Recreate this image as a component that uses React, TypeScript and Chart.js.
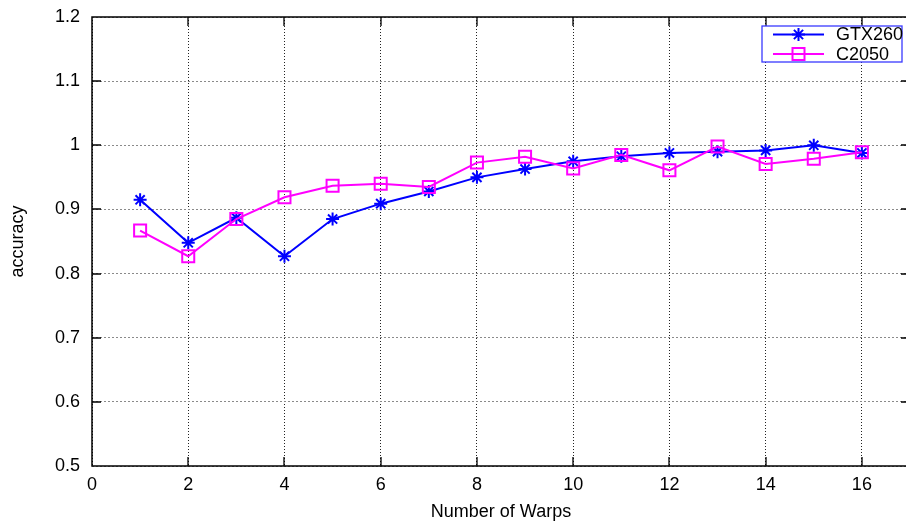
import React, { useEffect, useRef } from 'react';
import { Chart, registerables } from 'chart.js';

Chart.register(...registerables);

// ---- data ----
const warps = [1, 2, 3, 4, 5, 6, 7, 8, 9, 10, 11, 12, 13, 14, 15, 16];
const gtx260 = [0.915, 0.848, 0.887, 0.827, 0.885, 0.909, 0.928, 0.950, 0.963, 0.975, 0.983, 0.988, 0.990, 0.992, 1.0, 0.988];
const c2050 = [0.867, 0.827, 0.885, 0.919, 0.937, 0.940, 0.935, 0.973, 0.982, 0.964, 0.985, 0.961, 0.998, 0.971, 0.979, 0.989];
const xTickValues = [0, 2, 4, 6, 8, 10, 12, 14, 16];
const yTickValues = [0.5, 0.6, 0.7, 0.8, 0.9, 1.0, 1.1, 1.2];
const seriesLabels = ['GTX260', 'C2050'];
const xTitle = 'Number of Warps';
const yTitle = 'accuracy';

const FONT = '"Liberation Sans", Arial, sans-serif';
const BLUE = '#0000ff';
const MAGENTA = '#ff00ff';

function drawStar(ctx: CanvasRenderingContext2D, x: number, y: number, r: number) {
  ctx.beginPath();
  for (const a of [0, Math.PI / 4, Math.PI / 2, (3 * Math.PI) / 4]) {
    const dx = Math.cos(a) * r;
    const dy = Math.sin(a) * r;
    ctx.moveTo(x - dx, y - dy);
    ctx.lineTo(x + dx, y + dy);
  }
  ctx.stroke();
}

const framePlugin = {
  id: 'frameTicks',
  beforeDatasetsDraw(chart: any) {
    const { ctx, chartArea: a, scales } = chart;
    ctx.save();
    ctx.strokeStyle = '#000';
    ctx.lineWidth = 1.5;
    ctx.strokeRect(a.left, a.top, a.right - a.left, a.bottom - a.top);
    ctx.lineWidth = 1.3;
    const L = 9;
    ctx.beginPath();
    for (const t of scales.x.ticks) {
      const px = Math.round(scales.x.getPixelForValue(t.value));
      if (px <= a.left + 1 || px >= a.right - 1) continue;
      ctx.moveTo(px, a.bottom);
      ctx.lineTo(px, a.bottom - L);
      ctx.moveTo(px, a.top);
      ctx.lineTo(px, a.top + L);
    }
    for (const t of scales.y.ticks) {
      const py = Math.round(scales.y.getPixelForValue(t.value));
      if (py <= a.top + 1 || py >= a.bottom - 1) continue;
      ctx.moveTo(a.left, py);
      ctx.lineTo(a.left + L, py);
      ctx.moveTo(a.right, py);
      ctx.lineTo(a.right - L, py);
    }
    ctx.stroke();
    ctx.restore();
  },
};

const legendPlugin = {
  id: 'boxLegend',
  afterDraw(chart: any) {
    const { ctx, chartArea: a } = chart;
    const bw = 140;
    const bh = 36;
    const bx = a.right - 8 - bw;
    const by = a.top + 9;
    ctx.save();
    ctx.fillStyle = '#fff';
    ctx.fillRect(bx, by, bw, bh);
    ctx.strokeStyle = '#3a3aff';
    ctx.lineWidth = 1.3;
    ctx.strokeRect(bx, by, bw, bh);
    ctx.font = `18px ${FONT}`;
    ctx.textBaseline = 'middle';
    ctx.textAlign = 'left';
    chart.data.datasets.forEach((ds: any, i: number) => {
      const rowY = by + 8.5 + i * 19.5;
      const x1 = bx + 11;
      const x2 = bx + 62;
      const mx = (x1 + x2) / 2;
      ctx.strokeStyle = ds.borderColor;
      ctx.lineWidth = 2;
      ctx.beginPath();
      ctx.moveTo(x1, rowY);
      ctx.lineTo(x2, rowY);
      ctx.stroke();
      if (ds.pointStyle === 'star') {
        drawStar(ctx, mx, rowY, 6.5);
      } else {
        const s = 12;
        ctx.strokeRect(mx - s / 2, rowY - s / 2, s, s);
      }
      ctx.fillStyle = '#000';
      ctx.fillText(ds.label, bx + 74, rowY + 1);
    });
    ctx.restore();
  },
};

export default function App() {
  const ref = useRef<HTMLCanvasElement | null>(null);

  useEffect(() => {
    if (!ref.current) return;
    const tickFont = { family: FONT, size: 18 };
    const chart = new Chart(ref.current, {
      type: 'line',
      data: {
        datasets: [
          {
            label: seriesLabels[0],
            data: warps.map((w, i) => ({ x: w, y: gtx260[i] })),
            borderColor: BLUE,
            backgroundColor: BLUE,
            borderWidth: 2,
            pointStyle: 'star',
            pointRadius: 6.5,
            pointBorderWidth: 2,
            pointBorderColor: BLUE,
            pointBackgroundColor: 'rgba(0,0,0,0)',
            tension: 0,
            order: 1,
          },
          {
            label: seriesLabels[1],
            data: warps.map((w, i) => ({ x: w, y: c2050[i] })),
            borderColor: MAGENTA,
            backgroundColor: MAGENTA,
            borderWidth: 2,
            pointStyle: 'rect',
            pointRadius: 8.5,
            pointBorderWidth: 2,
            pointBorderColor: MAGENTA,
            pointBackgroundColor: 'rgba(0,0,0,0)',
            tension: 0,
            order: 0,
          },
        ],
      },
      options: {
        responsive: false,
        animation: false,
        devicePixelRatio: 1,
        layout: { padding: { left: 0, top: 17, right: 20, bottom: 0 } },
        plugins: {
          legend: { display: false },
          tooltip: { enabled: false },
        },
        scales: {
          x: {
            type: 'linear',
            min: 0,
            max: 17,
            afterBuildTicks: (scale: any) => {
              scale.ticks = xTickValues.map((v) => ({ value: v }));
            },
            afterFit: (scale: any) => {
              scale.height = 55;
              scale.paddingLeft = 0;
              scale.paddingRight = 0;
            },
            ticks: {
              font: tickFont,
              color: '#000',
              padding: 8,
              maxRotation: 0,
              autoSkip: false,
              callback: (v: any) => String(v),
            },
            grid: {
              color: '#222',
              lineWidth: 1,
              drawTicks: false,
            },
            border: { display: false, dash: [1, 2] },
            title: {
              display: true,
              text: xTitle,
              color: '#000',
              font: { family: FONT, size: 18, lineHeight: 1 },
              padding: { top: 0, bottom: 0 },
            },
          },
          y: {
            type: 'linear',
            min: 0.5,
            max: 1.2,
            afterBuildTicks: (scale: any) => {
              scale.ticks = yTickValues.map((v) => ({ value: v }));
            },
            afterFit: (scale: any) => {
              scale.width = 92;
              scale.paddingTop = 0;
              scale.paddingBottom = 0;
            },
            ticks: {
              font: tickFont,
              color: '#000',
              padding: 12,
              autoSkip: false,
              callback: (v: any) => String(Number(Number(v).toFixed(1))),
            },
            grid: {
              color: '#8a8a8a',
              lineWidth: 1,
              drawTicks: false,
            },
            border: { display: false, dash: [2, 2] },
            title: {
              display: true,
              text: yTitle,
              color: '#000',
              font: { family: FONT, size: 18, lineHeight: 1 },
              padding: { top: 9, bottom: 0 },
            },
          },
        },
      },
      plugins: [framePlugin, legendPlugin],
    } as any);
    return () => chart.destroy();
  }, []);

  return (
    <div
      style={{
        position: 'fixed',
        left: 0,
        top: 0,
        width: 906,
        height: 521,
        overflow: 'hidden',
        background: '#fff',
      }}
    >
      <canvas ref={ref} width={930} height={521} style={{ display: 'block' }} />
    </div>
  );
}
